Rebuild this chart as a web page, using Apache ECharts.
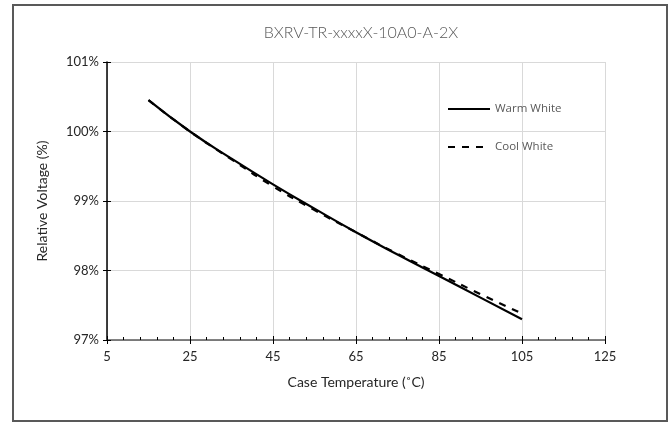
<!DOCTYPE html>
<html><head><meta charset="utf-8">
<script src="https://cdn.jsdelivr.net/npm/echarts@6/dist/echarts.min.js"></script>
<style>html,body{margin:0;padding:0;background:#fff}#c{width:668px;height:423px}</style>
</head><body><div id="c"></div>
<script>
var titleText = 'BXRV-TR-xxxxX-10A0-A-2X';
var temps = [15, 25, 35, 45, 55, 65, 75, 85, 95, 105];
var warmWhite = [100.45, 100.0, 99.61, 99.24, 98.89, 98.55, 98.23, 97.92, 97.61, 97.30];
var coolWhite = [100.45, 100.0, 99.60, 99.21, 98.87, 98.55, 98.24, 97.95, 97.66, 97.38];
var xMin = 5, xMax = 125, xStep = 20;
var yMin = 97, yMax = 101, yStep = 1;

function pairs(xs, ys){ return xs.map(function(x,i){ return [x, ys[i]]; }); }
var font = 'Lato, "Open Sans", sans-serif';
var chart = echarts.init(document.getElementById('c'));
chart.setOption({
  animation: false,
  title: { text: titleText, left: 356, textAlign: 'center', top: 20,
    textStyle: { fontFamily: font, fontWeight: 300, fontSize: 16, color: '#595959' } },
  graphic: [{ type: 'rect', shape: { x: 13, y: 5, width: 654, height: 416 },
    style: { fill: 'none', stroke: '#595959', lineWidth: 2 } }],
  grid: { left: 107, right: 63, top: 62, bottom: 83 },
  legend: { orient: 'vertical', left: 442, top: 98, itemWidth: 42, itemHeight: 14, itemGap: 26,
    itemStyle: { opacity: 0 },
    textStyle: { fontFamily: '"Open Sans", sans-serif', fontSize: 11.5, color: '#595959' },
    data: ['Warm White', 'Cool White'] },
  xAxis: [{
    type: 'value', min: xMin, max: xMax, interval: xStep,
    name: 'Case Temperature (˚C)', nameLocation: 'middle', nameGap: 35,
    nameTextStyle: { fontFamily: font, fontSize: 14, color: '#262626' },
    axisLine: { show: true, lineStyle: { color: '#595959', width: 1.5 } },
    axisTick: { show: true, length: 4, lineStyle: { color: '#000' } },
    axisLabel: { fontFamily: font, fontSize: 13, color: '#262626', margin: 10 },
    splitLine: { show: true, lineStyle: { color: '#d9d9d9' } }
  }, {
    type: 'value', min: xMin, max: xMax, interval: xStep, position: 'bottom',
    axisLine: { show: false },
    axisTick: { show: true, inside: true, length: 4, lineStyle: { color: '#000' } },
    minorTick: { show: true, splitNumber: 5, length: 3, lineStyle: { color: '#000' } },
    axisLabel: { show: false }, splitLine: { show: false }
  }],
  yAxis: [{
    type: 'value', min: yMin, max: yMax, interval: yStep,
    name: 'Relative Voltage (%)', nameLocation: 'middle', nameGap: 58,
    nameTextStyle: { fontFamily: font, fontSize: 14, color: '#262626' },
    axisLine: { show: true, lineStyle: { color: '#000', width: 1.5 } },
    axisTick: { show: true, length: 4, lineStyle: { color: '#000' } },
    axisLabel: { fontFamily: font, fontSize: 13, color: '#262626', margin: 8,
      formatter: function(v){ return v + '%'; } },
    splitLine: { show: true, lineStyle: { color: '#d9d9d9' } }
  }, {
    type: 'value', min: yMin, max: yMax, interval: yStep, position: 'left',
    axisLine: { show: false },
    axisTick: { show: true, inside: true, length: 4, lineStyle: { color: '#000' } },
    axisLabel: { show: false }, splitLine: { show: false }
  }],
  series: [{
    name: 'Warm White', type: 'line', smooth: true, symbol: 'none',
    data: pairs(temps, warmWhite), lineStyle: { color: '#000', width: 2.2 }, itemStyle: { color: '#000' }
  }, {
    name: 'Cool White', type: 'line', smooth: true, symbol: 'none',
    data: pairs(temps, coolWhite), lineStyle: { color: '#000', width: 2.2, type: [7, 7] }, itemStyle: { color: '#000' }
  }]
});
</script></body></html>
